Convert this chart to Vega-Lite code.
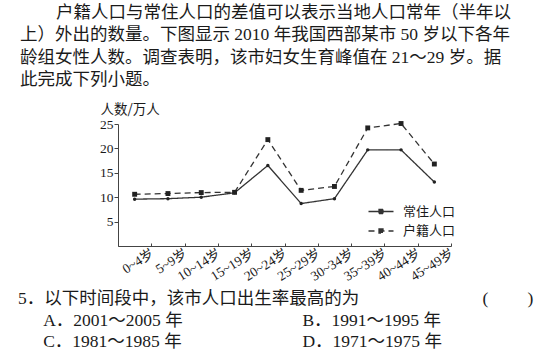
{
  "$schema": "https://vega.github.io/schema/vega-lite/v6.json",
  "width": 548,
  "height": 361,
  "autosize": {"type": "none"},
  "padding": 0,
  "background": "white",
  "config": {"view": {"stroke": null}},
  "resolve": {"scale": {"x": "independent", "y": "independent"}},
  "layer": [
    {
      "data": {"values": [
        {"line": 1, "col": 2, "text": "户籍人口与常住人口的差值可以表示当地人口常年（半年以"},
        {"line": 2, "col": 0, "text": "上）外出的数量。下图显示 2010 年我国西部某市 50 岁以下各年"},
        {"line": 3, "col": 0, "text": "龄组女性人数。调查表明，该市妇女生育峰值在 21～29 岁。据"},
        {"line": 4, "col": 0, "text": "此完成下列小题。"}
      ]},
      "mark": {"type": "text", "align": "left", "baseline": "middle", "font": "Liberation Serif, Noto Sans CJK SC", "fontSize": 17.5, "color": "#1a1a1a"},
      "encoding": {
        "x": {"field": "col", "type": "quantitative", "scale": {"domain": [0, 2], "range": [20, 56], "zero": false, "nice": false}, "axis": null},
        "y": {"field": "line", "type": "quantitative", "scale": {"domain": [1, 4], "range": [13, 80], "zero": false, "nice": false}, "axis": null},
        "text": {"field": "text"}
      }
    },
    {
      "data": {"values": [
        {"line": 1, "col": 0, "text": "5．以下时间段中，该市人口出生率最高的为"},
        {"line": 1, "col": 25.8, "text": "(　　  )"},
        {"line": 2, "col": 1.4, "text": "A．2001～2005 年"},
        {"line": 2, "col": 15.8, "text": "B．1991～1995 年"},
        {"line": 3, "col": 1.4, "text": "C．1981～1985 年"},
        {"line": 3, "col": 15.8, "text": "D．1971～1975 年"}
      ]},
      "mark": {"type": "text", "align": "left", "baseline": "middle", "font": "Liberation Serif, Noto Sans CJK SC", "fontSize": 17.5, "color": "#1a1a1a"},
      "encoding": {
        "x": {"field": "col", "type": "quantitative", "scale": {"domain": [0, 30], "range": [18, 558], "zero": false, "nice": false}, "axis": null},
        "y": {"field": "line", "type": "quantitative", "scale": {"domain": [1, 3], "range": [299, 342], "zero": false, "nice": false}, "axis": null},
        "text": {"field": "text"}
      }
    },
    {
      "data": {"values": [
        {"age": "0~4岁", "series": "常住人口", "value": 9.6},
        {"age": "5~9岁", "series": "常住人口", "value": 9.7},
        {"age": "10~14岁", "series": "常住人口", "value": 10.0},
        {"age": "15~19岁", "series": "常住人口", "value": 10.9},
        {"age": "20~24岁", "series": "常住人口", "value": 16.5},
        {"age": "25~29岁", "series": "常住人口", "value": 8.7},
        {"age": "30~34岁", "series": "常住人口", "value": 9.7},
        {"age": "35~39岁", "series": "常住人口", "value": 19.7},
        {"age": "40~44岁", "series": "常住人口", "value": 19.7},
        {"age": "45~49岁", "series": "常住人口", "value": 13.1},
        {"age": "0~4岁", "series": "户籍人口", "value": 10.6},
        {"age": "5~9岁", "series": "户籍人口", "value": 10.75},
        {"age": "10~14岁", "series": "户籍人口", "value": 10.95},
        {"age": "15~19岁", "series": "户籍人口", "value": 11.0},
        {"age": "20~24岁", "series": "户籍人口", "value": 21.8},
        {"age": "25~29岁", "series": "户籍人口", "value": 11.4},
        {"age": "30~34岁", "series": "户籍人口", "value": 12.2},
        {"age": "35~39岁", "series": "户籍人口", "value": 24.2},
        {"age": "40~44岁", "series": "户籍人口", "value": 25.1},
        {"age": "45~49岁", "series": "户籍人口", "value": 16.8}
      ]},
      "encoding": {
        "x": {
          "field": "age", "type": "nominal",
          "sort": ["0~4岁", "5~9岁", "10~14岁", "15~19岁", "20~24岁", "25~29岁", "30~34岁", "35~39岁", "40~44岁", "45~49岁"],
          "scale": {"type": "band", "range": [118, 451], "paddingInner": 0, "paddingOuter": 0},
          "axis": {
            "title": null, "orient": "bottom", "offset": -115,
            "tickBand": "extent", "tickSize": -3, "tickColor": "#444", "domainColor": "#444",
            "labelAngle": -32, "labelAlign": "right", "labelBaseline": "top", "labelOffset": 14, "labelPadding": 3,
            "labelFont": "Liberation Serif, Noto Sans CJK SC", "labelFontSize": 13.5, "labelColor": "#1a1a1a", "grid": false
          }
        },
        "y": {
          "field": "value", "type": "quantitative",
          "scale": {"domain": [0, 25], "range": [246, 124], "nice": false, "zero": true},
          "axis": {
            "orient": "left", "offset": -118, "values": [5, 10, 15, 20, 25], "grid": false,
            "tickSize": 4, "tickColor": "#444", "domainColor": "#444", "labelPadding": 1,
            "labelFont": "Liberation Serif", "labelFontSize": 13.5, "labelColor": "#1a1a1a",
            "title": "人数/万人", "titleAngle": 0, "titleAlign": "left", "titleBaseline": "middle",
            "titleX": -18, "titleY": 109, "titleFont": "Noto Sans CJK SC", "titleFontSize": 13.5, "titleFontWeight": "normal", "titleColor": "#1a1a1a"
          }
        }
      },
      "layer": [
        {
          "mark": {"type": "line", "color": "#333", "strokeWidth": 1.3},
          "encoding": {
            "strokeDash": {
              "field": "series", "type": "nominal",
              "scale": {"domain": ["常住人口", "户籍人口"], "range": [[1, 0], [6, 4]]},
              "legend": {
                "title": null, "orient": "none", "legendX": 374.5, "legendY": 205,
                "symbolType": "M-2.5,0H2.5M-0.4,-0.4H0.4V0.4H-0.4Z",
                "symbolSize": 100, "symbolStrokeWidth": 1.3, "symbolStrokeColor": "#333", "symbolFillColor": "#333",
                "labelFont": "Noto Sans CJK SC", "labelFontSize": 13, "labelColor": "#1a1a1a", "labelOffset": 15.5, "rowPadding": 5.5
              }
            }
          }
        },
        {
          "mark": {"type": "point", "filled": true, "color": "#222", "opacity": 1},
          "encoding": {
            "shape": {"field": "series", "type": "nominal", "scale": {"range": ["circle", "square"]}, "legend": null},
            "size": {"field": "series", "type": "nominal", "scale": {"range": [12, 24]}, "legend": null}
          }
        }
      ]
    }
  ]
}
